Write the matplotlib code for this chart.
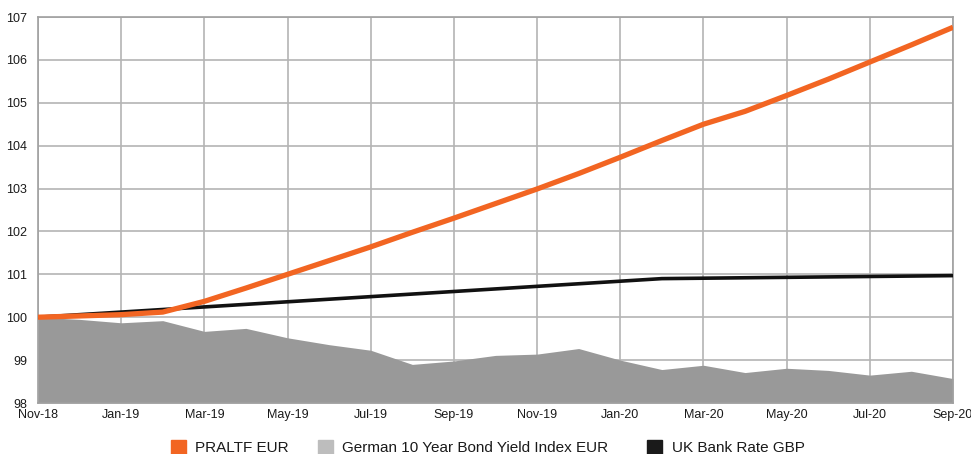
import matplotlib
matplotlib.use("Agg")
import matplotlib.pyplot as plt
import matplotlib.patches as mpatches
import numpy as np

# monthly series, Nov-18 .. Sep-20 (indexed to 100)
months = ["Nov-18", "Dec-18", "Jan-19", "Feb-19", "Mar-19", "Apr-19", "May-19", "Jun-19",
          "Jul-19", "Aug-19", "Sep-19", "Oct-19", "Nov-19", "Dec-19", "Jan-20", "Feb-20",
          "Mar-20", "Apr-20", "May-20", "Jun-20", "Jul-20", "Aug-20", "Sep-20"]
praltf = [100.0, 100.03, 100.06, 100.12, 100.37, 100.68, 101.0, 101.32,
          101.64, 101.98, 102.31, 102.65, 102.99, 103.35, 103.73, 104.12,
          104.5, 104.8, 105.17, 105.55, 105.95, 106.35, 106.76]
german = [100.0, 99.95, 99.87, 99.92, 99.67, 99.74, 99.52, 99.36,
          99.23, 98.9, 98.98, 99.11, 99.14, 99.27, 99.0, 98.78,
          98.88, 98.71, 98.81, 98.76, 98.65, 98.74, 98.57]
ukbank = [100.0, 100.06, 100.12, 100.18, 100.24, 100.3, 100.36, 100.42,
          100.48, 100.54, 100.6, 100.66, 100.72, 100.78, 100.84, 100.9,
          100.91, 100.92, 100.93, 100.94, 100.95, 100.96, 100.97]
labels = ["PRALTF EUR", "German 10 Year Bond Yield Index EUR", "UK Bank Rate GBP"]

orange = "#F26522"
grey_area = "#999999"
grey_patch = "#BDBDBD"
gridc = "#B4B4B4"

plt.rcParams['font.family'] = ['Liberation Sans', 'DejaVu Sans']

W, H = 971, 454
fig = plt.figure(figsize=(W/100, H/100), dpi=100)
ax = fig.add_axes([38/W, 51/H, 915/W, 386/H])

x = np.arange(len(months))
ax.fill_between(x, 98, german, color=grey_area, linewidth=0, zorder=2)
ax.plot(x, ukbank, color="#111111", lw=2.6, zorder=3, solid_capstyle='butt')
ax.plot(x, praltf, color=orange, lw=3.8, zorder=4, solid_capstyle='butt')

ax.set_xlim(0, len(months) - 1)
ax.set_ylim(98, 107)
ax.set_xticks(x[::2])
ax.set_xticklabels(months[::2])
ax.set_yticks(np.arange(98, 108, 1))
ax.grid(True, color=gridc, lw=1.2, zorder=1)
ax.set_axisbelow(True)
for s in ax.spines.values():
    s.set_color("#A0A0A0")
    s.set_linewidth(1.2)
ax.tick_params(length=0, labelsize=9, colors="#1a1a1a", pad=4)
ax.tick_params(axis='y', pad=8)

# legend drawn by hand so the entries sit where the original has them
colors = [orange, grey_patch, "#1A1A1A"]
patch_x = [171, 318, 647]
text_x = [195, 342, 672]
for c, px, tx, lab in zip(colors, patch_x, text_x, labels):
    fig.patches.append(mpatches.Rectangle((px/W, 0), 15/W, 14/H, color=c,
                                          transform=fig.transFigure, figure=fig))
    fig.text(tx/W, 1.5/H, lab, ha='left', va='baseline', fontsize=11,
             color="#1a1a1a")

fig.savefig("out.png", dpi=100)
